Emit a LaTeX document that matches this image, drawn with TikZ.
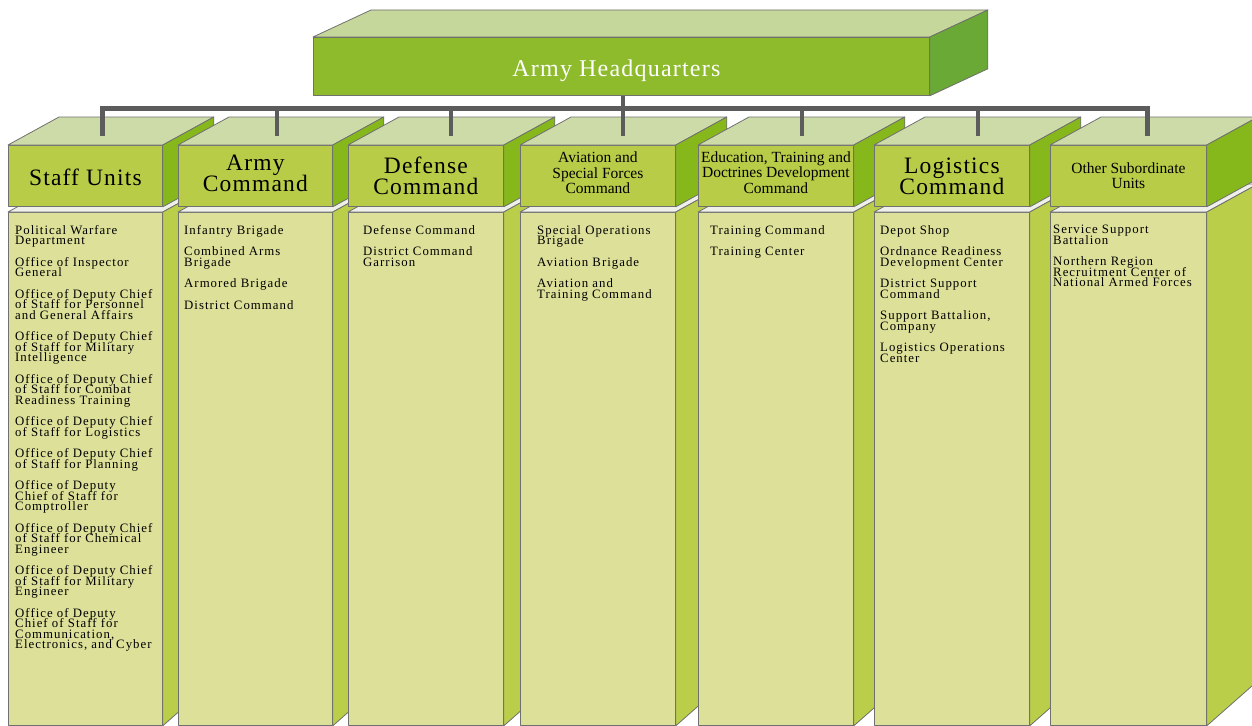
\documentclass[tikz,border=0pt]{standalone}
\usepackage{fontspec}
\setmainfont{Liberation Serif}
\newfontfamily\bodyfont[LetterSpace=8]{Liberation Serif}
\newfontfamily\bigfont[LetterSpace=5]{Liberation Serif}
\usetikzlibrary{calc}
\definecolor{hqfront}{HTML}{8DBB2B}
\definecolor{hqtop}{HTML}{C6D79B}
\definecolor{hqright}{HTML}{6AA935}
\definecolor{hfront}{HTML}{B8CC48}
\definecolor{htop}{HTML}{CDDBA9}
\definecolor{hright}{HTML}{86B81C}
\definecolor{bfront}{HTML}{DCE098}
\definecolor{bright}{HTML}{BBCE4A}
\definecolor{btop}{HTML}{F0F0EA}
\definecolor{edgegrey}{HTML}{707070}
\definecolor{bargrey}{HTML}{5C5C5C}
\tikzset{
  faceedge/.style={draw=edgegrey, line width=0.8pt, line join=round},
  hqface/.style={faceedge, fill=hqfront, minimum width=616pt, minimum height=58pt, inner sep=0pt},
  hqlabel/.style={inner sep=0pt, text=white, font=\bigfont\fontsize{24}{24}\selectfont},
  hdrface/.style={faceedge, fill=hfront, minimum height=61pt, inner sep=0pt},
  hdrlabel/.style={inner sep=0pt, align=center},
  bighdr/.style={font=\bigfont\fontsize{23.5}{21}\selectfont},
  smallhdr/.style={font=\fontsize{15.5}{15.5}\selectfont},
  bodyface/.style={faceedge, fill=bfront, minimum height=513pt, inner sep=0pt},
  itemtext/.style={anchor=north west, inner sep=0pt, align=left,
    font=\bodyfont\fontsize{12.8}{10.5}\selectfont},
  barline/.style={draw=bargrey, line width=5pt, line join=miter},
  dropline/.style={draw=bargrey, line width=4pt}
}
% #1 index, #2 left x, #3 width, #4 label style, #5 label y offset, #6 label
\newcommand\armycol[6]{%
  \node[bodyface, minimum width=#3, anchor=north west] (b#1) at (#2,212) {};
  \path[faceedge, fill=btop] (b#1.north west) -- ++(51,-28) -- ($(b#1.north east)+(51,-28)$) -- (b#1.north east) -- cycle;
  \path[faceedge, fill=bright] (b#1.north east) -- ++(51,-28) -- ($(b#1.south east)+(51,-45)$) -- (b#1.south east) -- cycle;
  \node[hdrface, minimum width=#3, anchor=north west] (h#1) at (#2,145) {};
  \path[faceedge, fill=htop] (h#1.north west) -- ++(51,-28) -- ($(h#1.north east)+(51,-28)$) -- (h#1.north east) -- cycle;
  \path[faceedge, fill=hright] (h#1.north east) -- ++(51,-28) -- ($(h#1.south east)+(51,-28)$) -- (h#1.south east) -- cycle;
  \node[hdrlabel, #4] (hl#1) at ($(h#1.center)+(0,#5)$) {#6};
}
\begin{document}
\lineskiplimit=-100pt
\lineskip=0pt
\begin{tikzpicture}[x=1pt, y=-1pt]
\useasboundingbox (0,0) rectangle (1252,725);
\clip (0,0) rectangle (1252,725);
\fill[white] (0,0) rectangle (1252,725);
% headquarters
\node[hqface, anchor=north west] (hq) at (313,37) {};
\path[faceedge, fill=hqtop] (hq.north west) -- ++(58,-27) -- ($(hq.north east)+(58,-27)$) -- (hq.north east) -- cycle;
\path[faceedge, fill=hqright] (hq.north east) -- ++(58,-27) -- ($(hq.south east)+(58,-27)$) -- (hq.south east) -- cycle;
\node[hqlabel] (hqtext) at ($(hq.center)+(-5,4)$) {Army Headquarters};
% columns
\armycol{1}{8}{154pt}{bighdr}{1}{Staff Units}
\armycol{2}{178}{154pt}{bighdr}{-3}{Army\\Command}
\armycol{3}{348}{155pt}{bighdr}{0}{Defense\\Command}
\armycol{4}{520}{155pt}{smallhdr}{-3}{Aviation and\\Special Forces\\Command}
\armycol{5}{698}{155pt}{smallhdr}{-3.5}{Education, Training and\\Doctrines Development\\Command}
\armycol{6}{874}{155pt}{bighdr}{0}{Logistics\\Command}
\armycol{7}{1050}{156pt}{smallhdr}{0}{Other Subordinate\\Units}
% column texts
\node[itemtext] (t1) at (15,225) {Political Warfare\\Department\\[11pt]
Office of Inspector\\General\\[11pt]
Office of Deputy Chief\\of Staff for Personnel\\and General Affairs\\[11pt]
Office of Deputy Chief\\of Staff for Military\\Intelligence\\[11pt]
Office of Deputy Chief\\of Staff for Combat\\Readiness Training\\[11pt]
Office of Deputy Chief\\of Staff for Logistics\\[11pt]
Office of Deputy Chief\\of Staff for Planning\\[11pt]
Office of Deputy\\Chief of Staff for\\Comptroller\\[11pt]
Office of Deputy Chief\\of Staff for Chemical\\Engineer\\[11pt]
Office of Deputy Chief\\of Staff for Military\\Engineer\\[11pt]
Office of Deputy\\Chief of Staff for\\Communication,\\Electronics, and Cyber};
\node[itemtext] (t2) at (184,225) {Infantry Brigade\\[11pt]
Combined Arms\\Brigade\\[11pt]
Armored Brigade\\[11pt]
District Command};
\node[itemtext] (t3) at (363,225) {Defense Command\\[11pt]
District Command\\Garrison};
\node[itemtext] (t4) at (537,225) {Special Operations\\Brigade\\[11pt]
Aviation Brigade\\[11pt]
Aviation and\\Training Command};
\node[itemtext] (t5) at (710,225) {Training Command\\[11pt]
Training Center};
\node[itemtext] (t6) at (880,225) {Depot Shop\\[11pt]
Ordnance Readiness\\Development Center\\[11pt]
District Support\\Command\\[11pt]
Support Battalion,\\Company\\[11pt]
Logistics Operations\\Center};
\node[itemtext] (t7) at (1053,225) {Service Support\\Battalion\\[11pt]
Northern Region\\Recruitment Center of\\National Armed Forces};
% connectors
\coordinate (j1) at (102,108);
\coordinate (j2) at (277,108);
\coordinate (j3) at (451,108);
\coordinate (j4) at (623,108);
\coordinate (j5) at (802,108);
\coordinate (j6) at (978,108);
\coordinate (j7) at (1147,108);
\coordinate (d1) at (102,136);
\coordinate (d2) at (277,136);
\coordinate (d3) at (451,136);
\coordinate (d4) at (623,136);
\coordinate (d5) at (802,136);
\coordinate (d6) at (978,136);
\coordinate (d7) at (1147,136);
\draw[dropline] (hq.south -| j4) -- (j4);
\draw[barline] (d1) -- (j1) -- (j7) -- (d7);
\foreach \i in {2,...,6} { \draw[dropline] (j\i) -- (d\i); }
\end{tikzpicture}
\end{document}
